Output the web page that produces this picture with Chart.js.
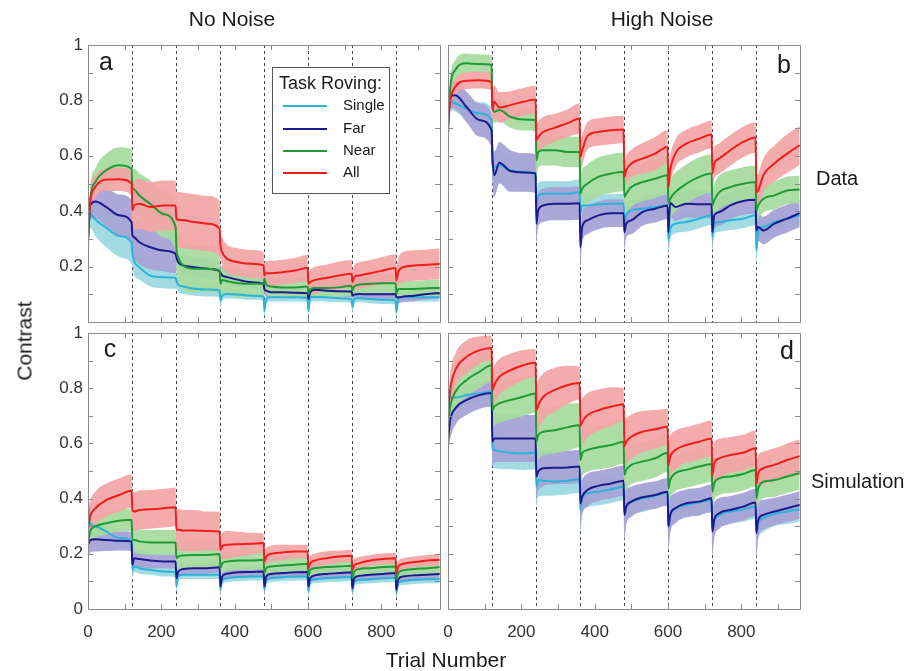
<!DOCTYPE html>
<html>
<head>
<meta charset="utf-8">
<script src="https://cdn.jsdelivr.net/npm/chart.js@4.4.1/dist/chart.umd.min.js"></script>
<style>
  html, body { margin: 0; padding: 0; background: #fff; }
  #page { position: relative; width: 909px; height: 671px; overflow: hidden; font-family: "Liberation Sans", Arial, sans-serif; color: #1a1a1a; }
  #page canvas { position: absolute; left: 0; top: 0; }
  .lbl { position: absolute; white-space: nowrap; transform: translate(-50%, -50%); line-height: 1; }
  .side { position: absolute; white-space: nowrap; transform: translateY(-50%); line-height: 1; }
</style>
</head>
<body>
<div id="page">
  <canvas id="pa" width="909" height="671"></canvas>
  <canvas id="pb" width="909" height="671"></canvas>
  <canvas id="pc" width="909" height="671"></canvas>
  <canvas id="pd" width="909" height="671"></canvas>

  <div class="lbl" style="left:232px; top:18px; font-size:21px;">No Noise</div>
  <div class="lbl" style="left:662px; top:18px; font-size:21px;">High Noise</div>
  <div class="lbl" style="left:24px; top:341px; font-size:21px; transform: translate(-50%, -50%) rotate(-90deg);">Contrast</div>
  <div class="lbl" style="left:446px; top:659px; font-size:21px;">Trial Number</div>
  <div class="side" style="left:816px; top:178px; font-size:20px;">Data</div>
  <div class="side" style="left:811px; top:481px; font-size:20px;">Simulation</div>

  <div class="lbl" style="left:106px; top:61px; font-size:25px;">a</div>
  <div class="lbl" style="left:784px; top:64px; font-size:25px;">b</div>
  <div class="lbl" style="left:110px; top:348px; font-size:25px;">c</div>
  <div class="lbl" style="left:787px; top:350px; font-size:25px;">d</div>
</div>

<script>
// trial positions sampled in each 120-trial block
const trials = [0,6,20,50,85,119, 121,126,140,170,205,239, 241,246,260,290,325,359, 361,366,380,410,445,479,
                481,486,500,530,565,599, 601,606,620,650,685,719, 721,726,740,770,805,839, 841,846,860,890,925,959];
const blockStarts = [120, 240, 360, 480, 600, 720, 840];
const xLabelTicks = [0, 200, 400, 600, 800];
const xMinorTicks = [100, 200, 300, 400, 500, 600, 700, 800, 900];
const yLabelTicksTop = [0.2, 0.4, 0.6, 0.8, 1];
const yLabelTicksBottom = [0, 0.2, 0.4, 0.6, 0.8, 1];
const yMinorTicks = [0.1, 0.2, 0.3, 0.4, 0.5, 0.6, 0.7, 0.8, 0.9];
const seriesNames = ['Single', 'Far', 'Near', 'All'];

// a: data, no noise
const aSingle = [0.31,0.39,0.37,0.34,0.31,0.285, 0.25,0.22,0.198,0.168,0.162,0.16, 0.15,0.135,0.128,0.12,0.117,0.115, 0.077,0.095,0.101,0.099,0.095,0.092,
                 0.04,0.083,0.089,0.089,0.089,0.087, 0.04,0.089,0.09,0.089,0.086,0.083, 0.053,0.083,0.087,0.083,0.08,0.077, 0.035,0.083,0.089,0.089,0.089,0.089];
const aSingleErr = [0.03,0.05,0.06,0.07,0.075,0.075, 0.05,0.05,0.045,0.04,0.04,0.04, 0.03,0.028,0.027,0.025,0.025,0.025, 0.02,0.018,0.016,0.015,0.015,0.015,
                    0.02,0.016,0.015,0.015,0.015,0.015, 0.02,0.016,0.015,0.015,0.015,0.015, 0.02,0.016,0.015,0.015,0.015,0.015, 0.02,0.016,0.015,0.015,0.015,0.015];
const aFar = [0.3,0.42,0.435,0.415,0.385,0.36, 0.315,0.306,0.288,0.27,0.258,0.246, 0.234,0.216,0.204,0.198,0.192,0.183, 0.178,0.168,0.162,0.152,0.144,0.138,
              0.119,0.113,0.107,0.107,0.106,0.104, 0.083,0.107,0.116,0.113,0.111,0.11, 0.095,0.099,0.101,0.1,0.1,0.101, 0.089,0.089,0.092,0.095,0.101,0.105];
const aFarErr = [0.02,0.05,0.06,0.07,0.075,0.08, 0.08,0.08,0.08,0.08,0.075,0.07, 0.045,0.04,0.04,0.035,0.035,0.035, 0.03,0.03,0.028,0.025,0.025,0.025,
                 0.02,0.02,0.02,0.02,0.02,0.02, 0.02,0.02,0.02,0.02,0.02,0.02, 0.02,0.02,0.02,0.02,0.02,0.02, 0.02,0.02,0.02,0.02,0.02,0.02];
const aNear = [0.28,0.44,0.505,0.548,0.566,0.553, 0.487,0.478,0.457,0.427,0.39,0.343, 0.27,0.234,0.204,0.192,0.192,0.186, 0.138,0.152,0.147,0.14,0.138,0.138,
               0.156,0.135,0.128,0.125,0.125,0.128, 0.101,0.119,0.123,0.123,0.125,0.131, 0.113,0.128,0.135,0.138,0.14,0.14, 0.101,0.119,0.119,0.119,0.122,0.123];
const aNearErr = [0.02,0.04,0.05,0.06,0.065,0.07, 0.07,0.075,0.08,0.085,0.085,0.085, 0.08,0.085,0.085,0.085,0.085,0.08, 0.05,0.05,0.05,0.05,0.045,0.045,
                  0.035,0.035,0.035,0.035,0.035,0.035, 0.035,0.035,0.035,0.035,0.035,0.035, 0.035,0.035,0.035,0.035,0.035,0.035, 0.03,0.03,0.03,0.03,0.03,0.03];
const aAll = [0.3,0.43,0.487,0.514,0.515,0.5, 0.403,0.421,0.427,0.415,0.421,0.421, 0.373,0.369,0.367,0.361,0.355,0.337, 0.282,0.252,0.228,0.216,0.21,0.204,
              0.168,0.176,0.176,0.18,0.186,0.195, 0.138,0.144,0.152,0.159,0.168,0.174, 0.144,0.162,0.168,0.176,0.186,0.195, 0.15,0.18,0.198,0.204,0.207,0.21];
const aAllErr = [0.02,0.04,0.04,0.04,0.042,0.045, 0.09,0.09,0.09,0.09,0.09,0.09, 0.1,0.1,0.1,0.1,0.1,0.1, 0.05,0.05,0.05,0.05,0.05,0.05,
                 0.045,0.045,0.045,0.045,0.045,0.048, 0.045,0.045,0.048,0.048,0.05,0.05, 0.045,0.045,0.048,0.048,0.05,0.05, 0.05,0.05,0.055,0.055,0.055,0.055];

// b: data, high noise
const bSingle = [0.79,0.795,0.789,0.771,0.753,0.729, 0.572,0.56,0.566,0.548,0.542,0.536, 0.415,0.457,0.463,0.463,0.463,0.469, 0.397,0.421,0.421,0.425,0.427,0.427,
                 0.355,0.385,0.403,0.409,0.415,0.421, 0.294,0.337,0.355,0.361,0.373,0.385, 0.306,0.355,0.361,0.367,0.373,0.385, 0.258,0.33,0.343,0.361,0.373,0.385];
const bSingleErr = [0.03,0.03,0.03,0.035,0.04,0.045, 0.06,0.06,0.055,0.05,0.05,0.05, 0.05,0.045,0.045,0.045,0.045,0.045, 0.04,0.035,0.035,0.035,0.035,0.035,
                    0.045,0.04,0.035,0.035,0.035,0.035, 0.05,0.04,0.035,0.035,0.035,0.035, 0.05,0.04,0.035,0.035,0.035,0.035, 0.05,0.04,0.035,0.035,0.035,0.035];
const bFar = [0.72,0.813,0.819,0.777,0.729,0.692, 0.6,0.53,0.575,0.545,0.54,0.536, 0.355,0.403,0.421,0.427,0.427,0.429, 0.27,0.343,0.367,0.385,0.393,0.393,
              0.324,0.355,0.367,0.397,0.409,0.421, 0.324,0.43,0.415,0.427,0.425,0.425, 0.324,0.385,0.397,0.421,0.437,0.441, 0.33,0.343,0.33,0.355,0.373,0.393];
const bFarErr = [0.03,0.04,0.05,0.055,0.06,0.06, 0.08,0.08,0.075,0.075,0.07,0.07, 0.07,0.06,0.06,0.06,0.06,0.06, 0.07,0.055,0.05,0.05,0.05,0.05,
                 0.06,0.05,0.05,0.05,0.05,0.05, 0.06,0.05,0.05,0.05,0.05,0.05, 0.06,0.05,0.05,0.05,0.05,0.05, 0.06,0.05,0.05,0.05,0.05,0.05];
const bNear = [0.668,0.843,0.91,0.934,0.931,0.928, 0.783,0.759,0.765,0.741,0.731,0.729, 0.584,0.614,0.62,0.62,0.614,0.614, 0.463,0.481,0.499,0.524,0.536,0.542,
               0.451,0.463,0.487,0.505,0.517,0.53, 0.427,0.445,0.469,0.499,0.524,0.536, 0.421,0.439,0.469,0.487,0.499,0.505, 0.403,0.421,0.445,0.457,0.475,0.478];
const bNearErr = [0.02,0.03,0.035,0.035,0.035,0.035, 0.04,0.04,0.04,0.04,0.04,0.04, 0.055,0.055,0.055,0.055,0.055,0.055, 0.07,0.07,0.07,0.07,0.07,0.07,
                  0.07,0.07,0.07,0.07,0.07,0.07, 0.07,0.07,0.07,0.07,0.07,0.07, 0.06,0.06,0.06,0.06,0.06,0.06, 0.05,0.05,0.05,0.05,0.05,0.05];
const bAll = [0.704,0.795,0.849,0.871,0.873,0.867, 0.765,0.795,0.774,0.783,0.795,0.803, 0.656,0.668,0.686,0.701,0.717,0.735, 0.596,0.62,0.671,0.686,0.692,0.695,
              0.524,0.548,0.572,0.59,0.608,0.632, 0.487,0.548,0.608,0.644,0.662,0.677, 0.536,0.572,0.59,0.62,0.65,0.666, 0.469,0.475,0.53,0.572,0.608,0.638];
const bAllErr = [0.02,0.03,0.03,0.03,0.03,0.03, 0.065,0.06,0.055,0.05,0.05,0.05, 0.06,0.055,0.055,0.05,0.05,0.055, 0.06,0.055,0.05,0.05,0.05,0.05,
                 0.05,0.05,0.05,0.055,0.06,0.06, 0.05,0.05,0.05,0.05,0.05,0.05, 0.055,0.055,0.055,0.055,0.055,0.055, 0.06,0.06,0.06,0.065,0.07,0.07];

// c: simulation, no noise
const cSingle = [0.4,0.31,0.3,0.28,0.257,0.245, 0.142,0.154,0.148,0.142,0.136,0.134, 0.082,0.118,0.124,0.124,0.124,0.124, 0.07,0.106,0.112,0.116,0.118,0.118,
                 0.07,0.106,0.112,0.116,0.118,0.118, 0.064,0.104,0.108,0.112,0.114,0.116, 0.064,0.1,0.106,0.108,0.112,0.112, 0.058,0.096,0.102,0.106,0.108,0.108];
const cSingleErr = [0.03,0.025,0.025,0.02,0.02,0.02, 0.025,0.02,0.02,0.018,0.018,0.018, 0.02,0.016,0.015,0.015,0.015,0.015, 0.02,0.016,0.015,0.015,0.015,0.015,
                    0.02,0.016,0.015,0.015,0.015,0.015, 0.02,0.016,0.015,0.015,0.015,0.015, 0.02,0.016,0.015,0.015,0.015,0.015, 0.02,0.016,0.015,0.015,0.015,0.015];
const cFar = [0.233,0.25,0.253,0.25,0.247,0.245, 0.16,0.184,0.181,0.176,0.172,0.172, 0.112,0.136,0.145,0.148,0.148,0.151, 0.082,0.118,0.128,0.133,0.134,0.136,
              0.082,0.118,0.127,0.13,0.133,0.134, 0.082,0.112,0.122,0.127,0.13,0.133, 0.076,0.112,0.12,0.124,0.127,0.13, 0.07,0.108,0.118,0.122,0.124,0.127];
const cFarErr = [0.04,0.045,0.045,0.04,0.035,0.035, 0.035,0.03,0.03,0.028,0.025,0.025, 0.03,0.022,0.02,0.02,0.02,0.02, 0.025,0.02,0.02,0.02,0.02,0.02,
                 0.025,0.02,0.02,0.02,0.02,0.02, 0.025,0.02,0.02,0.02,0.02,0.02, 0.025,0.02,0.02,0.02,0.02,0.02, 0.025,0.02,0.02,0.02,0.02,0.02];
const cNear = [0.239,0.281,0.299,0.311,0.32,0.323, 0.25,0.25,0.245,0.241,0.241,0.241, 0.184,0.19,0.194,0.196,0.196,0.199, 0.148,0.166,0.172,0.176,0.176,0.178,
               0.13,0.148,0.154,0.158,0.16,0.164, 0.118,0.142,0.148,0.152,0.154,0.157, 0.112,0.136,0.145,0.148,0.152,0.154, 0.106,0.13,0.14,0.145,0.148,0.152];
const cNearErr = [0.02,0.035,0.04,0.04,0.04,0.04, 0.045,0.045,0.045,0.045,0.045,0.045, 0.05,0.05,0.05,0.05,0.05,0.05, 0.035,0.035,0.035,0.035,0.035,0.035,
                  0.03,0.03,0.03,0.03,0.03,0.03, 0.025,0.025,0.025,0.025,0.025,0.025, 0.025,0.025,0.025,0.025,0.025,0.025, 0.025,0.025,0.025,0.025,0.025,0.025];
const cAll = [0.287,0.335,0.365,0.395,0.413,0.428, 0.359,0.353,0.359,0.361,0.365,0.369, 0.287,0.287,0.284,0.284,0.283,0.281, 0.214,0.227,0.233,0.235,0.236,0.239,
              0.172,0.19,0.2,0.205,0.208,0.208, 0.148,0.166,0.176,0.184,0.19,0.193, 0.142,0.157,0.166,0.176,0.181,0.184, 0.13,0.154,0.164,0.17,0.176,0.178];
const cAllErr = [0.03,0.05,0.06,0.06,0.06,0.06, 0.07,0.07,0.07,0.07,0.07,0.07, 0.075,0.075,0.075,0.075,0.07,0.07, 0.05,0.05,0.05,0.045,0.04,0.035,
                 0.035,0.03,0.03,0.028,0.025,0.025, 0.025,0.025,0.025,0.025,0.022,0.022, 0.025,0.022,0.022,0.02,0.02,0.02, 0.02,0.02,0.02,0.02,0.02,0.02];

// d: simulation, high noise
const dSingle = [0.8,0.77,0.766,0.775,0.781,0.787, 0.588,0.576,0.572,0.566,0.564,0.566, 0.443,0.467,0.465,0.461,0.465,0.47, 0.359,0.401,0.419,0.425,0.434,0.443,
                 0.347,0.371,0.389,0.401,0.41,0.422, 0.299,0.341,0.363,0.377,0.386,0.395, 0.281,0.317,0.341,0.353,0.361,0.371, 0.275,0.311,0.329,0.345,0.353,0.361];
const dSingleErr = [0.03,0.03,0.03,0.03,0.03,0.03, 0.065,0.065,0.065,0.06,0.06,0.06, 0.07,0.06,0.055,0.05,0.05,0.05, 0.08,0.06,0.05,0.05,0.05,0.05,
                    0.08,0.06,0.05,0.05,0.045,0.045, 0.08,0.06,0.05,0.045,0.045,0.045, 0.08,0.06,0.05,0.045,0.045,0.045, 0.08,0.06,0.05,0.045,0.045,0.045];
const dFar = [0.612,0.684,0.727,0.757,0.775,0.783, 0.606,0.618,0.618,0.618,0.618,0.618, 0.48,0.498,0.51,0.512,0.513,0.516, 0.383,0.407,0.431,0.446,0.455,0.465,
              0.341,0.371,0.389,0.405,0.413,0.425, 0.299,0.341,0.365,0.383,0.389,0.401, 0.281,0.323,0.347,0.359,0.371,0.386, 0.275,0.323,0.341,0.353,0.365,0.377];
const dFarErr = [0.06,0.07,0.06,0.055,0.05,0.05, 0.09,0.09,0.085,0.085,0.085,0.085, 0.08,0.07,0.065,0.06,0.06,0.06, 0.08,0.065,0.06,0.055,0.055,0.055,
                 0.09,0.065,0.055,0.05,0.05,0.05, 0.09,0.065,0.055,0.05,0.05,0.05, 0.09,0.065,0.055,0.05,0.05,0.05, 0.09,0.065,0.055,0.05,0.05,0.05];
const dNear = [0.666,0.733,0.787,0.829,0.859,0.883, 0.72,0.733,0.745,0.757,0.769,0.781, 0.606,0.63,0.642,0.648,0.658,0.666, 0.54,0.564,0.576,0.586,0.594,0.606,
               0.486,0.504,0.522,0.534,0.546,0.566, 0.437,0.467,0.492,0.504,0.516,0.525, 0.425,0.455,0.473,0.48,0.489,0.504, 0.401,0.437,0.461,0.467,0.48,0.492];
const dNearErr = [0.04,0.05,0.06,0.06,0.06,0.06, 0.07,0.07,0.07,0.07,0.07,0.07, 0.09,0.09,0.085,0.085,0.085,0.08, 0.09,0.085,0.08,0.08,0.08,0.08,
                  0.08,0.075,0.07,0.07,0.07,0.07, 0.07,0.065,0.065,0.065,0.065,0.065, 0.065,0.06,0.06,0.06,0.06,0.06, 0.06,0.06,0.06,0.06,0.06,0.06];
const dAll = [0.696,0.793,0.865,0.913,0.937,0.946, 0.793,0.811,0.841,0.865,0.883,0.892, 0.72,0.739,0.769,0.793,0.811,0.819, 0.663,0.678,0.702,0.72,0.733,0.742,
              0.59,0.606,0.624,0.642,0.651,0.66, 0.522,0.552,0.576,0.594,0.606,0.618, 0.486,0.528,0.546,0.558,0.566,0.582, 0.455,0.492,0.51,0.522,0.54,0.554];
const dAllErr = [0.05,0.06,0.06,0.06,0.05,0.045, 0.07,0.07,0.065,0.06,0.055,0.05, 0.09,0.09,0.085,0.08,0.07,0.06, 0.09,0.085,0.08,0.075,0.07,0.06,
                 0.09,0.085,0.08,0.075,0.07,0.065, 0.08,0.075,0.07,0.065,0.065,0.065, 0.08,0.075,0.07,0.065,0.065,0.065, 0.07,0.065,0.06,0.06,0.06,0.06];

// styles
const lineColors = ['#2ab4da', '#1b1a8e', '#1f9a38', '#f21c1c'];
const bandColors = ['rgba(158,217,226,0.95)', 'rgba(166,163,215,0.95)', 'rgba(166,219,159,0.95)', 'rgba(242,166,166,0.95)'];
const FONT = '"Liberation Sans", Arial, sans-serif';
const PAGE_W = 909, PAGE_H = 671;
const Y_AXIS_W = 40, X_AXIS_H = 40;

const panels = [
    { canvas: 'pa', box: [88, 45, 440, 322], showY: true, showX: false, legend: true,
      mean: [aSingle, aFar, aNear, aAll], err: [aSingleErr, aFarErr, aNearErr, aAllErr] },
    { canvas: 'pb', box: [448, 45, 800, 322], showY: false, showX: false, legend: false,
      mean: [bSingle, bFar, bNear, bAll], err: [bSingleErr, bFarErr, bNearErr, bAllErr] },
    { canvas: 'pc', box: [88, 333, 440, 609], showY: true, showX: true, legend: false,
      mean: [cSingle, cFar, cNear, cAll], err: [cSingleErr, cFarErr, cNearErr, cAllErr] },
    { canvas: 'pd', box: [448, 333, 800, 609], showY: false, showX: true, legend: false,
      mean: [dSingle, dFar, dNear, dAll], err: [dSingleErr, dFarErr, dNearErr, dAllErr] }
];

// box, inner ticks and block separators, matlab style
const framePlugin = {
    id: 'frame',
    beforeDatasetsDraw(chart) {
        const { ctx, chartArea: a, scales: { x } } = chart;
        ctx.save();
        ctx.strokeStyle = '#444';
        ctx.lineWidth = 1;
        ctx.setLineDash([3, 3]);
        for (const b of blockStarts) {
            const px = Math.round(x.getPixelForValue(b)) + 0.5;
            ctx.beginPath();
            ctx.moveTo(px, a.top);
            ctx.lineTo(px, a.bottom);
            ctx.stroke();
        }
        ctx.restore();
    },
    afterDatasetsDraw(chart) {
        const { ctx, chartArea: a, scales: { x, y } } = chart;
        const tick = 5;
        ctx.save();
        ctx.strokeStyle = '#8c8c8c';
        ctx.lineWidth = 1;
        ctx.beginPath();
        for (const v of yMinorTicks) {
            const py = Math.round(y.getPixelForValue(v)) + 0.5;
            ctx.moveTo(a.left, py); ctx.lineTo(a.left + tick, py);
            ctx.moveTo(a.right, py); ctx.lineTo(a.right - tick, py);
        }
        for (const v of xMinorTicks) {
            const px = Math.round(x.getPixelForValue(v)) + 0.5;
            ctx.moveTo(px, a.bottom); ctx.lineTo(px, a.bottom - tick);
            ctx.moveTo(px, a.top); ctx.lineTo(px, a.top + tick);
        }
        ctx.stroke();
        ctx.strokeRect(Math.round(a.left) + 0.5, Math.round(a.top) + 0.5,
                       Math.round(a.right - a.left), Math.round(a.bottom - a.top));
        ctx.restore();
    }
};

// legend box drawn inside panel a
const legendPlugin = {
    id: 'roveLegend',
    afterDraw(chart) {
        if (!chart.options.plugins.roveLegend.show) return;
        const ctx = chart.ctx;
        const bx = 272.5, by = 67.5, bw = 117, bh = 126;
        ctx.save();
        ctx.fillStyle = '#fff';
        ctx.fillRect(bx, by, bw, bh);
        ctx.strokeStyle = '#555';
        ctx.lineWidth = 1;
        ctx.strokeRect(bx, by, bw, bh);
        ctx.fillStyle = '#1a1a1a';
        ctx.textBaseline = 'middle';
        ctx.font = '18px ' + FONT;
        ctx.fillText('Task Roving:', 279, 84);
        ctx.font = '15px ' + FONT;
        const rows = [106, 129, 151, 173];
        seriesNames.forEach((name, i) => {
            ctx.strokeStyle = lineColors[i];
            ctx.lineWidth = 2;
            ctx.beginPath();
            ctx.moveTo(283, rows[i]);
            ctx.lineTo(327, rows[i]);
            ctx.stroke();
            ctx.fillText(name, 343, rows[i]);
        });
        ctx.restore();
    }
};

function buildDatasets(p) {
    const sets = [];
    p.mean.forEach((m, i) => {
        const e = p.err[i];
        sets.push({
            label: seriesNames[i] + ' upper',
            data: trials.map((t, k) => ({ x: t, y: m[k] + e[k] })),
            borderColor: 'transparent', borderWidth: 0, fill: false, order: 20 - i
        });
        sets.push({
            label: seriesNames[i] + ' lower',
            data: trials.map((t, k) => ({ x: t, y: m[k] - e[k] })),
            borderColor: 'transparent', borderWidth: 0, fill: '-1',
            backgroundColor: bandColors[i], order: 20 - i
        });
    });
    p.mean.forEach((m, i) => {
        sets.push({
            label: seriesNames[i],
            data: trials.map((t, k) => ({ x: t, y: m[k] })),
            borderColor: lineColors[i], borderWidth: 2, fill: false, order: 3 - i
        });
    });
    return sets;
}

function createPanel(p) {
    const [left, top, right, bottom] = p.box;
    const yTicks = p.showX ? yLabelTicksBottom : yLabelTicksTop;
    return new Chart(document.getElementById(p.canvas), {
        type: 'line',
        data: { datasets: buildDatasets(p) },
        options: {
            responsive: false,
            animation: false,
            events: [],
            layout: {
                padding: { left: left - Y_AXIS_W, top: top, right: PAGE_W - right, bottom: PAGE_H - bottom - X_AXIS_H }
            },
            elements: {
                point: { radius: 0 },
                line: { cubicInterpolationMode: 'monotone' }
            },
            plugins: {
                legend: { display: false },
                tooltip: { enabled: false },
                roveLegend: { show: p.legend }
            },
            scales: {
                x: {
                    type: 'linear', min: 0, max: 960,
                    grid: { display: false, drawTicks: false },
                    border: { display: false },
                    ticks: { display: p.showX, padding: 13, color: '#333', font: { family: FONT, size: 17 } },
                    afterBuildTicks: s => { s.ticks = xLabelTicks.map(v => ({ value: v })); },
                    afterFit: s => { s.height = X_AXIS_H; }
                },
                y: {
                    type: 'linear', min: 0, max: 1,
                    grid: { display: false, drawTicks: false },
                    border: { display: false },
                    ticks: {
                        display: p.showY, padding: 5, color: '#333', font: { family: FONT, size: 17 },
                        callback: v => String(Number(v.toFixed(1)))
                    },
                    afterBuildTicks: s => { s.ticks = yTicks.map(v => ({ value: v })); },
                    afterFit: s => { s.width = Y_AXIS_W; }
                }
            }
        },
        plugins: [framePlugin, legendPlugin]
    });
}

panels.forEach(createPanel);
</script>
</body>
</html>
